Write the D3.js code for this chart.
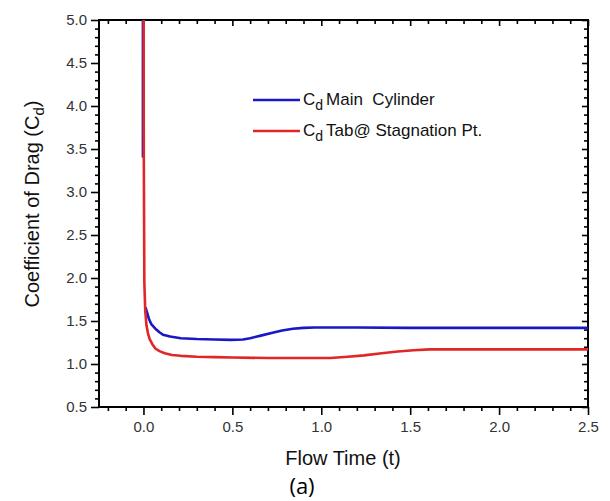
<!DOCTYPE html>
<html><head><meta charset="utf-8">
<script src="https://cdn.jsdelivr.net/npm/d3@7"></script>
<style>body{margin:0;background:#fff}svg{display:block}</style>
</head><body>
<svg id="c" width="610" height="501"></svg>
<script>
// ---- data ----
const xTicks = [0.0, 0.5, 1.0, 1.5, 2.0, 2.5];
const yTicks = [0.5, 1.0, 1.5, 2.0, 2.5, 3.0, 3.5, 4.0, 4.5, 5.0];
const seriesNames = ["Main  Cylinder", "Tab@ Stagnation Pt."];
// Main cylinder (null = break in the line)
const blueT = [-0.003, -0.003, null, 0.012, 0.02, 0.03, 0.045, 0.067, 0.09, 0.11, 0.15, 0.21, 0.30, 0.40, 0.49, 0.56, 0.60, 0.66, 0.72, 0.78, 0.84, 0.90, 0.96, 1.05, 1.2, 1.5, 2.0, 2.5];
const blueV = [5.3, 3.4, null, 1.66, 1.60, 1.53, 1.46, 1.41, 1.37, 1.34, 1.32, 1.30, 1.29, 1.285, 1.28, 1.285, 1.30, 1.33, 1.36, 1.39, 1.41, 1.42, 1.425, 1.425, 1.425, 1.42, 1.42, 1.42];
// Tab at stagnation point
const redT = [0.001, 0.002, 0.005, 0.01, 0.017, 0.025, 0.035, 0.05, 0.067, 0.09, 0.12, 0.16, 0.21, 0.3, 0.4, 0.5, 0.7, 0.9, 1.05, 1.15, 1.24, 1.34, 1.43, 1.52, 1.61, 1.8, 2.0, 2.5];
const redV = [5.3, 3.4, 1.95, 1.62, 1.45, 1.36, 1.29, 1.23, 1.18, 1.15, 1.125, 1.105, 1.095, 1.085, 1.08, 1.075, 1.07, 1.07, 1.07, 1.085, 1.10, 1.125, 1.145, 1.16, 1.17, 1.17, 1.17, 1.17];

// ---- layout ----
const svg = d3.select("#c");
const L = 99, R = 588, T = 20, B = 407;
const x = d3.scaleLinear().domain([-0.25, 2.5]).range([L, R]);
const y = d3.scaleLinear().domain([0.5, 5.0]).range([B, T]);
const minorX = d3.range(-2, 26).map(d => d / 10).filter(d => Math.abs(d * 2 - Math.round(d * 2)) > 1e-6);
const minorY = d3.range(5, 51).map(d => d / 10).filter(d => Math.abs(d * 2 - Math.round(d * 2)) > 1e-6);

svg.append("clipPath").attr("id", "clip").append("rect")
  .attr("x", L).attr("y", T).attr("width", R - L).attr("height", B - T);

const tickFont = "'Liberation Sans', Arial, sans-serif";

function styleAxis(g) {
  g.select(".domain").remove();
  g.selectAll("line").attr("stroke", "#000").attr("stroke-width", 1.6);
  g.selectAll("text").attr("font-family", tickFont).attr("font-size", 15).attr("fill", "#333");
}
// bottom
svg.append("g").attr("transform", `translate(0,${B})`)
  .call(d3.axisBottom(x).tickValues(xTicks).tickFormat(d3.format(".1f")).tickSize(8).tickPadding(6)).call(styleAxis);
svg.append("g").attr("transform", `translate(0,${B})`)
  .call(d3.axisBottom(x).tickValues(minorX).tickFormat("").tickSize(4)).call(styleAxis);
// left
svg.append("g").attr("transform", `translate(${L},0)`)
  .call(d3.axisLeft(y).tickValues(yTicks).tickFormat(d3.format(".1f")).tickSize(8).tickPadding(4)).call(styleAxis);
svg.append("g").attr("transform", `translate(${L},0)`)
  .call(d3.axisLeft(y).tickValues(minorY).tickFormat("").tickSize(4)).call(styleAxis);
// top (inward)
svg.append("g").attr("transform", `translate(0,${T})`)
  .call(d3.axisBottom(x).tickValues(xTicks).tickFormat("").tickSize(6)).call(styleAxis);
svg.append("g").attr("transform", `translate(0,${T})`)
  .call(d3.axisBottom(x).tickValues(minorX).tickFormat("").tickSize(4)).call(styleAxis);
// right (inward)
svg.append("g").attr("transform", `translate(${R},0)`)
  .call(d3.axisLeft(y).tickValues(yTicks).tickFormat("").tickSize(6)).call(styleAxis);
svg.append("g").attr("transform", `translate(${R},0)`)
  .call(d3.axisLeft(y).tickValues(minorY).tickFormat("").tickSize(4)).call(styleAxis);

// frame
svg.append("rect").attr("x", L).attr("y", T).attr("width", R - L).attr("height", B - T)
  .attr("fill", "none").attr("stroke", "#000").attr("stroke-width", 2);

// lines
const line = d3.line().defined(d => d[0] !== null && d[1] !== null).x(d => x(d[0])).y(d => y(d[1]));
const blueData = blueT.map((t, i) => [t, blueV[i]]);
const redData = redT.map((t, i) => [t, redV[i]]);
const colors = ["#1818c4", "#e02626"];
svg.append("path").datum(blueData).attr("d", line).attr("clip-path", "url(#clip)")
  .attr("fill", "none").attr("stroke", colors[0]).attr("stroke-width", 2.6).attr("stroke-linejoin", "round");
svg.append("path").datum(redData).attr("d", line).attr("clip-path", "url(#clip)")
  .attr("fill", "none").attr("stroke", colors[1]).attr("stroke-width", 2.6).attr("stroke-linejoin", "round");

// legend
const leg = svg.append("g");
[0, 1].forEach(i => {
  const ly = 100 + i * 31;
  leg.append("line").attr("x1", 253).attr("x2", 300).attr("y1", ly).attr("y2", ly)
    .attr("stroke", colors[i]).attr("stroke-width", 2.6);
  const t = leg.append("text").attr("x", 303).attr("y", ly + 5).style("white-space", "pre")
    .attr("font-family", tickFont).attr("font-size", 17).attr("fill", "#111");
  t.append("tspan").text("C");
  t.append("tspan").attr("font-size", 14).attr("dy", 5).text("d");
  t.append("tspan").attr("dy", -5).attr("dx", 3).text(seriesNames[i]);
});

// axis titles
svg.append("text").attr("x", 343).attr("y", 465).attr("text-anchor", "middle")
  .attr("font-family", tickFont).attr("font-size", 20).attr("fill", "#111").text("Flow Time (t)");
const yl = svg.append("text").attr("transform", `translate(39,204) rotate(-90)`)
  .attr("text-anchor", "middle").attr("font-family", tickFont).attr("font-size", 20).attr("fill", "#111");
yl.append("tspan").text("Coefficient of Drag (C");
yl.append("tspan").attr("font-size", 15).attr("dy", 5).text("d");
yl.append("tspan").attr("dy", -5).text(")");

svg.append("text").attr("x", 302).attr("y", 494).attr("text-anchor", "middle")
  .attr("font-family", "'Open Sans', 'Noto Sans', sans-serif").attr("font-size", 22).attr("fill", "#000").text("(a)");
</script>
</body></html>
